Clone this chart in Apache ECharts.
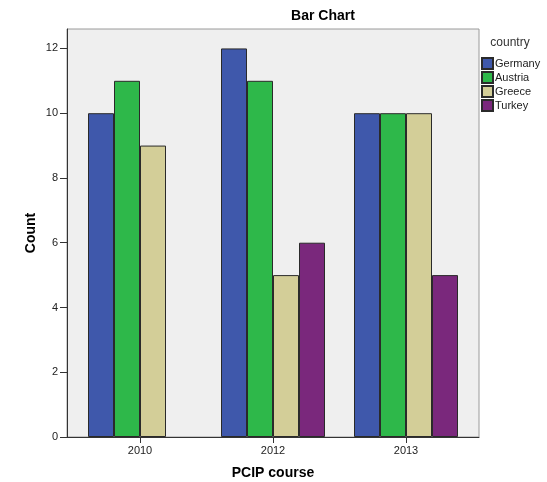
<!DOCTYPE html>
<html>
<head>
<meta charset="utf-8">
<script src="https://cdn.jsdelivr.net/npm/echarts@6/dist/echarts.min.js"></script>
<style>html,body{margin:0;padding:0;background:#fff}#c{width:547px;height:482px}</style>
</head>
<body>
<div id="c"></div>
<script>
var categories = ['2010', '2012', '2013'];
var countryNames = ['Germany', 'Austria', 'Greece', 'Turkey'];
var germany = [10, 12, 10];
var austria = [11, 11, 10];
var greece = [9, 5, 10];
var turkey = [null, 6, 5];
var yTicks = [0, 2, 4, 6, 8, 10, 12];
var colors = ['#3f58ab', '#2eb84a', '#d3ce98', '#7a287c'];
var seriesValues = [germany, austria, greece, turkey];

var FONT = 'Liberation Sans, Arial, sans-serif';
var chart = echarts.init(document.getElementById('c'), null, {renderer: 'canvas'});

var series = countryNames.map(function (n, i) {
  return {
    name: n, type: 'bar', xAxisIndex: 1, yAxisIndex: 1,
    data: seriesValues[i], barWidth: 26, barGap: '0%',
    itemStyle: {color: colors[i], borderColor: '#2a2a2a', borderWidth: 1},
    emphasis: {disabled: true}, animation: false
  };
});

chart.setOption({
  animation: false,
  backgroundColor: '#fff',
  graphic: [
    {type: 'text', x: 323, y: 16, style: {text: 'Bar Chart', font: 'bold 14px ' + FONT, fill: '#000', textAlign: 'center', textVerticalAlign: 'middle'}},
    {type: 'text', x: 510, y: 43, style: {text: 'country', font: '12px ' + FONT, fill: '#333', textAlign: 'center', textVerticalAlign: 'middle'}}
  ],
  legend: {
    orient: 'vertical', left: 481, top: 57, padding: 0,
    itemWidth: 11, itemHeight: 11, itemGap: 1, icon: 'rect',
    data: countryNames,
    textStyle: {fontFamily: FONT, fontSize: 11, color: '#222', padding: [0, 0, 0, -3]}
  },
  grid: [
    {left: 67, top: 29, width: 412, height: 408, show: true, backgroundColor: '#efefef', borderColor: '#9a9a9a', borderWidth: 1, outerBoundsMode: 'none', containLabel: false},
    {left: 73.5, top: 29, width: 399, height: 408, outerBoundsMode: 'none', containLabel: false}
  ],
  xAxis: [
    {gridIndex: 0, type: 'value', min: 0, max: 1, axisLine: {show: true, lineStyle: {color: '#333', width: 1}}, axisTick: {show: false}, axisLabel: {show: false}, splitLine: {show: false}},
    {gridIndex: 1, type: 'category', data: categories, axisLine: {show: false},
     axisTick: {show: true, alignWithLabel: true, length: 6, lineStyle: {color: '#333'}},
     axisLabel: {fontFamily: FONT, fontSize: 11, color: '#222', margin: 8},
     name: 'PCIP course', nameLocation: 'middle', nameGap: 29,
     nameTextStyle: {fontFamily: FONT, fontSize: 14, fontWeight: 'bold', color: '#000'}}
  ],
  yAxis: [
    {gridIndex: 0, type: 'value', min: 0, max: 1, show: false},
    {gridIndex: 1, type: 'value', min: 0, max: 12.6, interval: 2, offset: 6.5,
     axisLine: {show: true, lineStyle: {color: '#333', width: 1}},
     axisTick: {show: true, length: 7, lineStyle: {color: '#333'}, customValues: yTicks},
     axisLabel: {fontFamily: FONT, fontSize: 11, color: '#222', margin: 9, customValues: yTicks},
     splitLine: {show: false},
     name: 'Count', nameLocation: 'middle', nameGap: 29, nameMoveOverlap: false,
     nameTextStyle: {fontFamily: FONT, fontSize: 14, fontWeight: 'bold', color: '#000'}}
  ],
  series: series
});
</script>
</body>
</html>
